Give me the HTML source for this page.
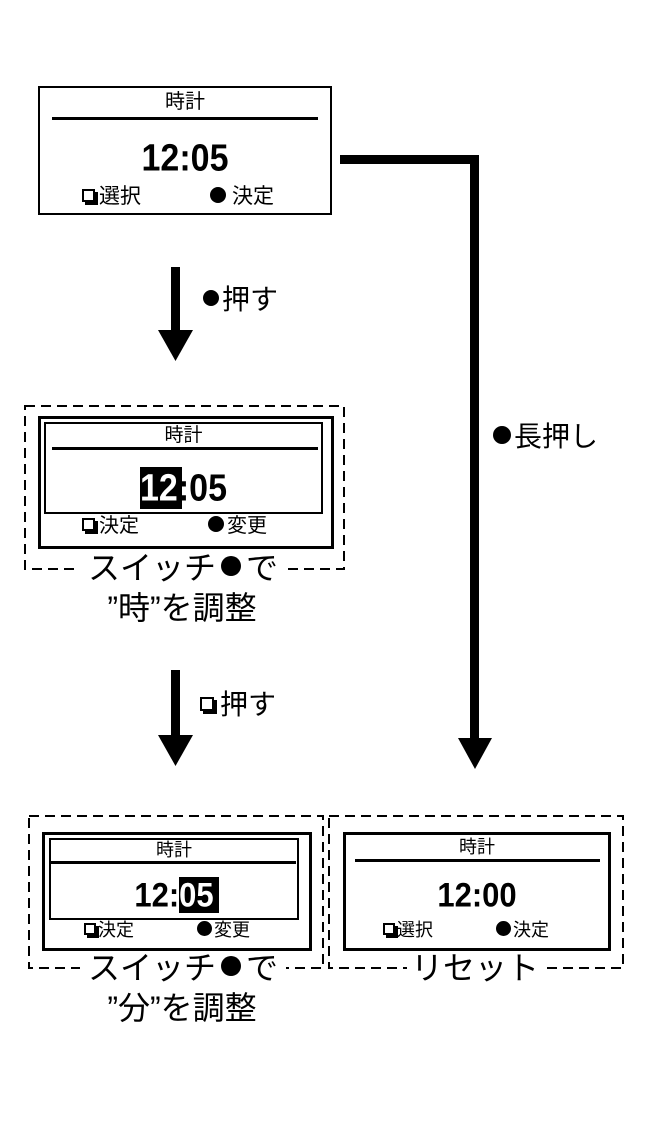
<!DOCTYPE html>
<html><head><meta charset="utf-8"><style>
body{margin:0;width:650px;height:1122px;background:#fff;position:relative;overflow:hidden;font-family:"Liberation Sans","Noto Sans CJK JP",sans-serif;color:#000}
.a{position:absolute}
.jp{font-family:"Liberation Sans","Noto Sans CJK JP",sans-serif;white-space:nowrap;line-height:1}
.num{font-family:"Liberation Sans",sans-serif;font-weight:bold;white-space:nowrap;line-height:1;transform:scaleY(1.12)}
.sq{display:inline-block;width:9px;height:9px;border:2px solid #000;background:#fff;box-shadow:3px 3px 0 #000;margin-right:4px;vertical-align:1px}
.dot{display:inline-block;border-radius:50%;background:#000}
</style></head><body>

<svg class="a" style="left:0;top:0" width="650" height="1122">
<g fill="none" stroke="#000" stroke-width="2" stroke-dasharray="10 6">
<rect x="25" y="406" width="319" height="163"/>
<rect x="29" y="816" width="294" height="152"/>
<rect x="329" y="816" width="294" height="152"/>
</g>
</svg>

<!-- top box -->
<div class="a" style="left:38px;top:86px;width:290px;height:125px;border:2px solid #000"></div>
<div class="a jp" style="left:38px;top:92px;width:294px;text-align:center;font-size:20px">時計</div>
<div class="a" style="left:52px;top:117px;width:266px;height:3px;background:#000"></div>
<div class="a num" style="left:38px;top:141px;width:294px;text-align:center;font-size:34px">12:05</div>
<div class="a jp" style="left:82px;top:186px;font-size:21px"><span class="sq"></span>選択</div>
<div class="a jp" style="left:210px;top:186px;font-size:21px"><span class="dot" style="width:16px;height:16px;margin-right:6px"></span>決定</div>

<!-- right connector -->
<div class="a" style="left:340px;top:155px;width:139px;height:9px;background:#000"></div>
<div class="a" style="left:470px;top:155px;width:9px;height:590px;background:#000"></div>
<svg class="a" style="left:458px;top:738px" width="34" height="32"><polygon points="0,0 34,0 17,31" fill="#000"/></svg>
<div class="a jp" style="left:493px;top:423px;font-size:28px"><span class="dot" style="width:18px;height:18px;margin-right:3px;vertical-align:2px"></span>長押し</div>

<!-- arrow 1 -->
<div class="a" style="left:171px;top:267px;width:9px;height:66px;background:#000"></div>
<svg class="a" style="left:158px;top:330px" width="35" height="32"><polygon points="0,0 35,0 17.5,31" fill="#000"/></svg>
<div class="a jp" style="left:203px;top:286px;font-size:28px"><span class="dot" style="width:16px;height:16px;margin-right:3px;vertical-align:3px"></span>押す</div>

<!-- box 2 -->
<div class="a" style="left:38px;top:416px;width:290px;height:127px;border:3px solid #000;background:#fff"></div>
<div class="a" style="left:44px;top:422px;width:275px;height:88px;border:2px solid #000"></div>
<div class="a jp" style="left:44px;top:426px;width:279px;text-align:center;font-size:19px">時計</div>
<div class="a" style="left:52px;top:447px;width:266px;height:3px;background:#000"></div>
<div class="a" style="left:140px;top:467px;width:42px;height:42px;background:#000"></div>
<div class="a num" style="left:44px;top:471px;width:279px;text-align:center;font-size:34px"><span style="color:#fff">12</span>:05</div>
<div class="a jp" style="left:82px;top:516px;font-size:20px"><span class="sq"></span>決定</div>
<div class="a jp" style="left:208px;top:516px;font-size:20px"><span class="dot" style="width:16px;height:16px;margin-right:3px"></span>変更</div>
<div class="a jp" style="left:78px;top:552px;width:210px;text-align:center;font-size:32px;background:#fff">スイッチ<span class="dot" style="width:20px;height:20px;margin:0 5px;vertical-align:3px"></span>で</div>
<div class="a jp" style="left:40px;top:592px;width:284px;text-align:center;font-size:32px">”時”を調整</div>

<!-- arrow 2 -->
<div class="a" style="left:171px;top:670px;width:9px;height:68px;background:#000"></div>
<svg class="a" style="left:158px;top:735px" width="35" height="32"><polygon points="0,0 35,0 17.5,31" fill="#000"/></svg>
<div class="a jp" style="left:200px;top:691px;font-size:28px"><span class="sq" style="width:10px;height:10px;margin-right:6px;vertical-align:3px"></span>押す</div>

<!-- box 3 -->
<div class="a" style="left:42px;top:832px;width:264px;height:113px;border:3px solid #000;background:#fff"></div>
<div class="a" style="left:49px;top:838px;width:246px;height:78px;border:2px solid #000"></div>
<div class="a jp" style="left:49px;top:841px;width:250px;text-align:center;font-size:18px">時計</div>
<div class="a" style="left:50px;top:861px;width:246px;height:3px;background:#000"></div>
<div class="a" style="left:179px;top:877px;width:40px;height:36px;background:#000"></div>
<div class="a num" style="left:49px;top:879px;width:250px;text-align:center;font-size:31px">12:<span style="color:#fff">05</span></div>
<div class="a jp" style="left:84px;top:921px;font-size:18px"><span class="sq" style="width:8px;height:8px;margin-right:2px"></span>決定</div>
<div class="a jp" style="left:197px;top:921px;font-size:18px"><span class="dot" style="width:15px;height:15px;margin-right:2px"></span>変更</div>
<div class="a jp" style="left:80px;top:952px;width:206px;text-align:center;font-size:32px;background:#fff">スイッチ<span class="dot" style="width:20px;height:20px;margin:0 5px;vertical-align:3px"></span>で</div>
<div class="a jp" style="left:40px;top:992px;width:284px;text-align:center;font-size:32px">”分”を調整</div>

<!-- box 4 -->
<div class="a" style="left:343px;top:832px;width:262px;height:113px;border:3px solid #000;background:#fff"></div>
<div class="a jp" style="left:343px;top:838px;width:268px;text-align:center;font-size:18px">時計</div>
<div class="a" style="left:355px;top:859px;width:245px;height:3px;background:#000"></div>
<div class="a num" style="left:343px;top:879px;width:268px;text-align:center;font-size:31px">12:00</div>
<div class="a jp" style="left:383px;top:921px;font-size:18px"><span class="sq" style="width:8px;height:8px;margin-right:2px"></span>選択</div>
<div class="a jp" style="left:496px;top:921px;font-size:18px"><span class="dot" style="width:15px;height:15px;margin-right:2px"></span>決定</div>
<div class="a jp" style="left:407px;top:952px;width:136px;text-align:center;font-size:32px;background:#fff">リセット</div>

</body></html>
